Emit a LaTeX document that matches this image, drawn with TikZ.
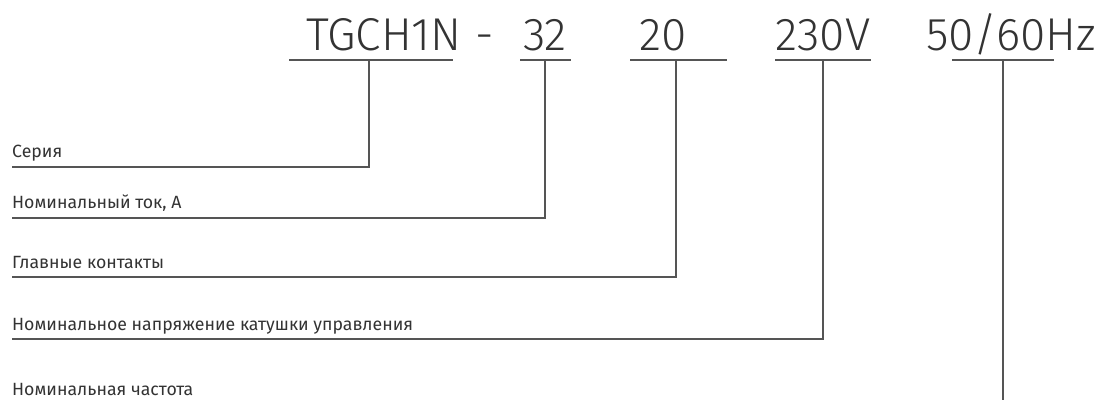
\documentclass[tikz,border=0pt]{standalone}
\usepackage{fontspec}
\setmainfont{Fira Sans Light}
\newfontfamily\lblfont{Fira Sans}
\begin{document}
\begin{tikzpicture}[x=1pt,y=-1pt,
  big/.style={inner sep=0pt,anchor=base,text=txt,font=\fontsize{46}{50}\selectfont},
  lbl/.style={inner sep=0pt,anchor=base west,text=txt,font=\lblfont\fontsize{17.7}{20}\selectfont},
  ln/.style={draw=lin,line width=1.1pt}]
\definecolor{txt}{HTML}{333333}
\definecolor{lin}{HTML}{555555}
\useasboundingbox (0,0) rectangle (1105,400);
% top code
\node[big] (tg) at (384,50) {TGCH1N};
\node[big] (dash) at (485,50) {-};
\node[big] (n32) at (545,50) {32};
\node[big] (n20) at (663,50) {20};
\node[big] (v) at (823,50) {230V};
\node[big] (hz) at (1011,50) {50/60Hz};
% underlines
\coordinate (u1a) at (289,60); \coordinate (u1b) at (453,60);
\coordinate (u2a) at (520,60); \coordinate (u2b) at (571,60);
\coordinate (u3a) at (630,60); \coordinate (u3b) at (727,60);
\coordinate (u4a) at (775,60); \coordinate (u4b) at (871,60);
\coordinate (u5a) at (952,60); \coordinate (u5b) at (1054,60);
\draw[ln] (u1a) -- (u1b);
\draw[ln] (u2a) -- (u2b);
\draw[ln] (u3a) -- (u3b);
\draw[ln] (u4a) -- (u4b);
\draw[ln] (u5a) -- (u5b);
% labels
\node[lbl] (l1) at (12,157) {Серия};
\node[lbl] (l2) at (12,208) {Номинальный ток, А};
\node[lbl] (l3) at (12,268) {Главные контакты};
\node[lbl] (l4) at (12,330) {Номинальное напряжение катушки управления};
\node[lbl] (l5) at (12,395) {Номинальная частота};
% leaders
\coordinate (t1) at (369,60); \coordinate (c1) at (369,167); \coordinate (e1) at (12,167);
\coordinate (t2) at (545,60); \coordinate (c2) at (545,218); \coordinate (e2) at (12,218);
\coordinate (t3) at (676,60); \coordinate (c3) at (676,277); \coordinate (e3) at (12,277);
\coordinate (t4) at (823,60); \coordinate (c4) at (823,339); \coordinate (e4) at (12,339);
\coordinate (t5) at (1003,60); \coordinate (c5) at (1003,400);
\draw[ln] (t1) -- (c1) -- (e1);
\draw[ln] (t2) -- (c2) -- (e2);
\draw[ln] (t3) -- (c3) -- (e3);
\draw[ln] (t4) -- (c4) -- (e4);
\draw[ln] (t5) -- (c5);
\end{tikzpicture}
\end{document}
